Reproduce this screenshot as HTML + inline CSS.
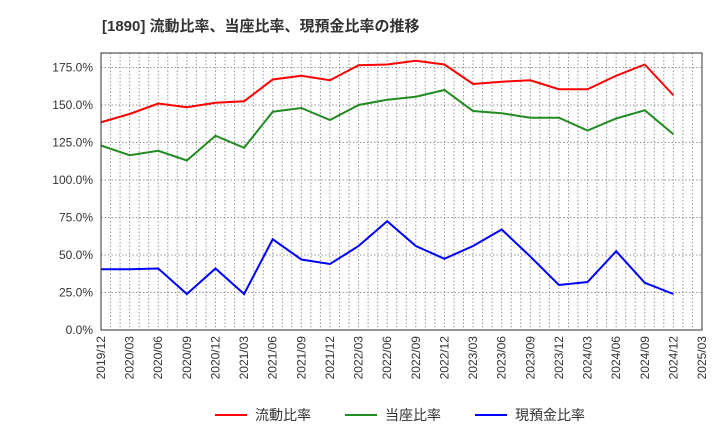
<!DOCTYPE html>
<html><head><meta charset="utf-8"><style>
body{margin:0;background:#fff;font-family:"Liberation Sans","Noto Sans CJK JP",sans-serif}
</style></head><body>
<svg id="c" width="720" height="440" xmlns="http://www.w3.org/2000/svg" font-family="Liberation Sans, Noto Sans CJK JP, sans-serif">
<text x="102" y="31" font-size="15" font-weight="bold" fill="#333">[1890]  流動比率、当座比率、現預金比率の推移</text>
<g id="grid"></g><g id="series"></g><g id="axes"></g>
<g font-size="14" fill="#333">
<line x1="215" y1="415" x2="247" y2="415" stroke="#f00" stroke-width="2"/><text x="255" y="420">流動比率</text>
<line x1="345" y1="415" x2="377" y2="415" stroke="#228b22" stroke-width="2"/><text x="385" y="420">当座比率</text>
<line x1="475" y1="415" x2="507" y2="415" stroke="#00f" stroke-width="2"/><text x="515" y="420">現預金比率</text>
</g>
</svg>
<script>
const tickLabels=["2019/12","2020/03","2020/06","2020/09","2020/12","2021/03","2021/06","2021/09","2021/12","2022/03","2022/06","2022/09","2022/12","2023/03","2023/06","2023/09","2023/12","2024/03","2024/06","2024/09","2024/12","2025/03"];
const yTicks=[0,25,50,75,100,125,150,175];
const current=[138.5,144,151,148.5,151.5,152.5,167,169.5,166.5,176.5,177,179.5,177,164,165.5,166.5,160.5,160.5,169.5,177,156.5];
const quick=[123,116.5,119.5,113,129.5,121.5,145.5,148,140,150,153.5,155.5,160,146,144.5,141.5,141.5,133,141,146.5,130.5];
const cash=[40.5,40.5,41,24,41,24,60.5,47,44,56,72.5,56,47.5,56,67,49,30,32,52.5,31.5,24];
const L=101,R=702,T=53,B=330,ns="http://www.w3.org/2000/svg";
const xq=i=>L+(R-L)*i/21;
const y=v=>B-v*1.5;
function mk(p,t,a){const e=document.createElementNS(ns,t);for(const k in a)e.setAttribute(k,a[k]);document.getElementById(p).appendChild(e);return e;}
for(let m=1;m<63;m++){const e=mk('grid','line',{x1:L+(R-L)*m/63,x2:L+(R-L)*m/63,y1:T,y2:B,stroke:'#999','stroke-dasharray':'1.5,2','stroke-width':1});

}
yTicks.forEach(v=>{const g=mk('grid','line',{x1:L,x2:R,y1:y(v),y2:y(v),stroke:'#999','stroke-dasharray':'1.5,2'});


const t=mk('axes','text',{x:L-8,y:y(v)+4,'text-anchor':'end','font-size':12,fill:'#333'});t.textContent=v.toFixed(1)+'%';

});
tickLabels.forEach((s,i)=>{const x=xq(i);const t=mk('axes','text',{x:0,y:0,'text-anchor':'end','font-size':12,fill:'#333',transform:`translate(${x+4},${B+6}) rotate(-90)`});t.textContent=s;

});
const fr=mk('axes','rect',{x:L,y:T,width:R-L,height:B-T,fill:'none',stroke:'#333'});


[[current,'#f00','current-ratio-line'],[quick,'#228b22','quick-ratio-line'],[cash,'#00f','cash-ratio-line']].forEach(([d,c,n])=>{
const p=mk('series','polyline',{points:d.map((v,i)=>xq(i)+','+y(v)).join(' '),fill:'none',stroke:c,'stroke-width':2});

});
</script>
</body></html>
